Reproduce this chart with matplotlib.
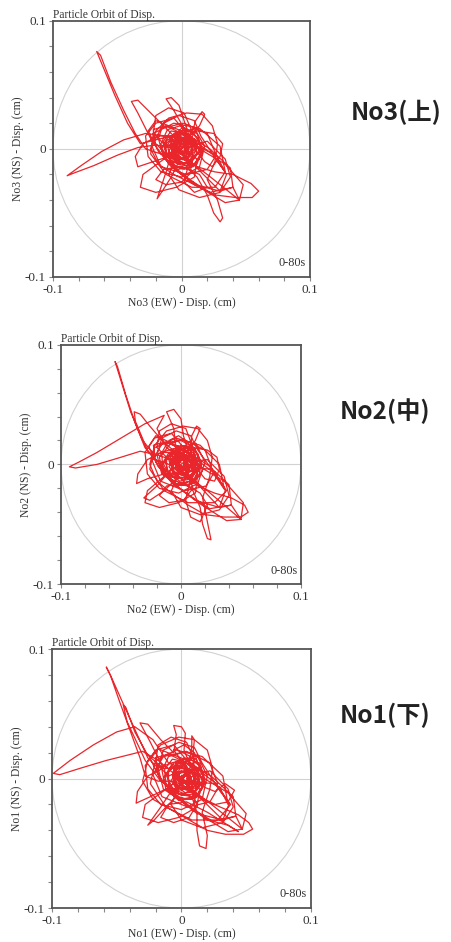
import matplotlib.pyplot as plt
import numpy as np
from matplotlib.patches import Circle

plt.rcParams['font.family'] = 'Liberation Serif'
plt.rcParams['font.size'] = 8

# orbit points, units of 1e-3 cm (EW, NS)
no3_orbit = [
    (0, 0), (4, 3), (2, 8), (-4, 7), (-7, 1), (-4, -6), (3, -8), (9, -3), (8, 5), (2, 11),
    (-6, 10), (-11, 3), (-9, -6), (-2, -12), (7, -11), (12, -3), (10, 7), (3, 13),
    (-8, 10), (-20, 7), (-32, 4), (-42, 20), (-52, 42), (-61, 64), (-66, 76), (-63, 73),
    (-55, 52), (-45, 30), (-36, 12), (-28, 0), (-16, -4), (-5, -3),
    (5, 4), (1, 12), (-8, 14), (-14, 6), (-12, -5), (-4, -14), (6, -15), (14, -8), (15, 3),
    (9, 13), (-1, 18), (-11, 15), (-16, 4), (-13, -8), (-3, -16), (9, -14), (16, -4), (13, 8),
    (4, 15), (-6, 12), (-9, 2), (-5, -7), (4, -9), (9, -1), (6, 7), (-2, 8),
    (-12, 10), (-28, 12), (-45, 7), (-62, -2), (-78, -13), (-89, -21), (-84, -19), (-68, -13),
    (-50, -5), (-34, 1), (-20, 3), (-8, 1),
    (2, -6), (12, -14), (26, -18), (40, -20), (54, -27), (60, -33), (55, -38), (42, -38),
    (26, -36), (10, -28), (-6, -20), (-18, -12), (-24, 0), (-20, 14), (-10, 24), (4, 28),
    (16, 27), (24, 18), (28, 4), (26, -10), (20, -24), (28, -40), (32, -54), (30, -57),
    (25, -50), (20, -36), (12, -22),
    (0, -10), (-12, -4), (-24, 8), (-34, 28), (-39, 37), (-34, 38), (-26, 30), (-14, 18),
    (-4, 8), (2, 16), (-6, 30), (-12, 39), (-8, 40), (-2, 34), (2, 22), (6, 10),
    (14, 18), (18, 27), (16, 29), (11, 22), (8, 12), (10, 0), (18, -10), (24, -14), (30, -6),
    (32, 4), (25, 12), (12, 14), (0, 8), (-8, -4), (-12, -18), (-19, -39), (-15, -33),
    (-8, -22), (-2, -10),
    (-10, -6), (-22, -10), (-34, -14), (-36, -6), (-30, 4), (-18, 10), (-4, 10), (8, 6),
    (12, -4), (6, -12), (-4, -10), (-8, -2), (-4, 6), (4, 8), (6, 0), (2, -5), (-3, -3),
    (-2, 3), (2, 4), (3, -1),
    (8, -18), (0, -26), (-12, -28), (-20, -24), (-14, -16), (0, -14), (14, -20), (20, -30),
    (10, -34), (2, -26), (6, -10), (14, -2), (10, 8), (0, 6),
    (4, 6), (27, -5), (20, 12), (2, 20), (-16, 16), (-23, 2), (-16, -14), (4, -20), (20, -16),
    (27, -5), (34, -18), (30, 2), (14, 16), (-6, 20), (-22, 12), (-24, -4), (-12, -20),
    (8, -30), (26, -30), (34, -18), (28, -10),
    (15, 10), (10, 22), (-2, 26), (-14, 20), (-18, 8), (-14, -6), (-4, -14), (10, -12), (16, -2),
    (-6, 24), (-20, 20), (-28, 10), (-26, -6), (-16, -18), (0, -22), (14, -14), (18, 2),
    (10, 16), (0, 12),
    (-6, 6), (-10, -2), (-4, -9), (5, -7), (8, 1), (3, 7), (-4, 4), (-2, -4), (4, -3), (2, 3),
    (10, 8), (14, -2), (8, -10), (-3, -12), (-12, -6), (-12, 6), (-4, 12), (6, 11), (12, 3),
    (9, -6), (0, -7), (-7, -2), (-6, 5), (1, 6), (5, 0), (0, -3), (-10, 10), (-16, 0),
    (-10, -12), (2, -16), (12, -12), (16, 0), (12, 12), (0, 16), (-8, 8), (-2, 0), (7, -5),
    (3, 5), (-5, 0), (0, 2),
    (-30, -20), (-32, -30), (-20, -34), (-4, -30), (10, -22), (12, -8), (2, 0), (20, 6),
    (34, -8), (38, -22), (30, -34), (14, -38), (-2, -32), (-10, -20), (-4, -6), (8, 14),
    (2, 28), (-10, 32), (-20, 26), (-22, 12), (-12, 2),
    (-2, 6), (4, 2), (1, -4), (-5, -1), (-3, 5), (3, 4), (5, -4), (-1, -8), (-8, -3), (-6, 3),
    (30, -33), (35, -20), (25, -5), (8, 8), (-12, 18), (-22, 15), (-20, 2), (-8, -14),
    (10, -28), (30, -33), (40, -30), (38, -15), (22, 0), (0, 14), (-20, 22), (-26, 14),
    (-18, -2), (0, -20), (22, -34), (40, -30), (45, -40), (48, -28), (34, -12), (14, 0),
    (-6, 10), (-14, 2), (-6, -14), (14, -30), (34, -42), (45, -40),
    (20, -20), (4, -8), (-6, 2), (-1, 10), (7, 4), (9, -8), (1, -12), (-7, -6), (-8, 6),
    (0, 12), (10, 6), (12, -4), (4, -10), (-4, -4), (-4, 4), (4, 4), (4, -4), (-1, -2),
]

no2_orbit = [
    (0, 0), (5, 4), (2, 10), (-5, 8), (-9, 1), (-5, -7), (3, -10), (10, -3), (9, 6), (1, 13),
    (-8, 11), (-13, 2), (-10, -8), (-1, -14), (9, -12), (14, -2), (11, 9), (2, 15),
    (-10, 12), (-22, 8), (-32, 20), (-42, 44), (-50, 70), (-55, 86), (-53, 82), (-46, 58),
    (-38, 34), (-30, 14), (-22, 4), (-10, 0),
    (4, 6), (0, 15), (-9, 17), (-16, 8), (-15, -5), (-6, -16), (6, -18), (15, -10), (17, 2),
    (11, 14), (0, 20), (-12, 17), (-18, 6), (-15, -8), (-4, -18), (10, -16), (18, -5), (14, 9),
    (4, 16), (-6, 13), (-10, 3), (-6, -6), (3, -9), (9, -1), (5, 8), (-3, 8),
    (-12, 14), (-20, 30), (-14, 41), (-30, 34), (-50, 22), (-70, 10), (-85, 2), (-93, -2),
    (-88, -3), (-70, 0), (-50, 6), (-34, 11), (-20, 8), (-8, 4),
    (2, -8), (14, -18), (28, -24), (42, -28), (53, -34), (56, -40), (50, -44), (36, -44),
    (20, -42), (6, -34), (-8, -24), (-20, -14), (-26, 0), (-22, 16), (-12, 28), (2, 32),
    (14, 30), (22, 20), (26, 6), (24, -10), (18, -28), (22, -48), (25, -63), (22, -62),
    (18, -50), (16, -36), (10, -22),
    (0, -12), (-14, -4), (-28, 12), (-38, 36), (-39, 44), (-34, 42), (-26, 32), (-14, 18),
    (-4, 10), (-6, 30), (-12, 44), (-6, 46), (0, 38), (2, 24), (6, 12),
    (12, 20), (16, 30), (13, 32), (9, 24), (8, 12), (12, -2), (20, -12), (28, -14), (32, -4),
    (30, 6), (22, 12), (10, 14), (0, 8), (-10, -6), (-20, -18), (-31, -28), (-26, -30),
    (-14, -22), (-4, -12),
    (-14, -8), (-28, -12), (-37, -16), (-36, -8), (-28, 4), (-16, 10), (-2, 10), (8, 6),
    (12, -4), (6, -12), (-4, -10), (-8, -2), (-4, 6), (4, 8), (6, 0), (2, -5), (-3, -3),
    (-2, 3), (2, 4), (3, -1),
    (10, -20), (2, -30), (-10, -32), (-18, -26), (-12, -18), (2, -16), (16, -24), (22, -34),
    (16, -48), (8, -44), (4, -30), (8, -12), (16, -2), (10, 8), (0, 6),
    (-4, 14), (-10, 20), (-2, 24), (6, 18), (12, 8), (6, -4), (-4, -2),
    (26, -4), (20, 12), (2, 21), (-16, 17), (-24, 3), (-17, -14), (3, -22), (21, -18),
    (28, -6), (36, -20), (32, 0), (16, 16), (-4, 22), (-22, 14), (-26, -4), (-14, -22),
    (6, -32), (28, -32), (38, -22), (30, -10),
    (14, 12), (8, 24), (-4, 28), (-16, 22), (-20, 8), (-16, -8), (-4, -16), (10, -14),
    (16, -2), (-8, 26), (-22, 22), (-30, 10), (-28, -8), (-18, -20), (-2, -24), (14, -16),
    (20, 2), (12, 18), (0, 12),
    (-6, 6), (-10, -2), (-4, -9), (5, -7), (8, 1), (3, 7), (-4, 4), (-2, -4), (4, -3), (2, 3),
    (10, 8), (14, -2), (8, -10), (-3, -12), (-12, -6), (-12, 6), (-4, 12), (6, 11), (12, 3),
    (9, -6), (0, -7), (-7, -2), (-6, 5), (1, 6), (5, 0), (0, -3), (-10, 10), (-16, 0),
    (-10, -12), (2, -16), (12, -12), (16, 0), (12, 12), (0, 16), (-8, 8), (-2, 0), (7, -5),
    (3, 5), (-5, 0), (0, 2),
    (-28, -22), (-30, -32), (-18, -36), (-2, -32), (12, -24), (14, -8), (4, 2), (22, 4),
    (36, -10), (40, -26), (32, -38), (16, -42), (0, -36), (-8, -22), (-2, -8), (10, 14),
    (4, 30), (-8, 34), (-18, 28), (-20, 14), (-10, 4),
    (-2, 8), (5, 4), (2, -4), (-4, -2), (-2, 6), (4, 6), (6, -2), (0, -6), (-7, -3), (-5, 4),
    (32, -36), (37, -22), (26, -6), (8, 8), (-12, 19), (-23, 16), (-21, 2), (-8, -15),
    (12, -30), (32, -36), (42, -34), (40, -17), (23, -1), (0, 14), (-21, 24), (-27, 15),
    (-19, -2), (1, -22), (24, -37), (42, -34), (50, -46), (52, -32), (36, -14), (14, -1),
    (-7, 10), (-15, 1), (-6, -16), (16, -33), (38, -47), (50, -46),
    (22, -22), (5, -9), (-6, 1), (-1, 11), (8, 4), (10, -8), (2, -13), (-7, -7), (-9, 6),
    (0, 13), (11, 6), (13, -5), (5, -11), (-4, -5), (-5, 4), (4, 5), (5, -4), (0, -2),
]

no1_orbit = [
    (0, 0), (6, 4), (4, 10), (-3, 9), (-7, 2), (-4, -6), (4, -9), (11, -3), (10, 6), (3, 13),
    (-6, 12), (-11, 4), (-9, -7), (0, -13), (9, -12), (14, -3), (12, 8), (4, 15),
    (-8, 12), (-18, 8), (-26, 16), (-36, 38), (-46, 60), (-54, 78), (-58, 86), (-55, 80),
    (-48, 60), (-40, 38), (-32, 16), (-28, 2), (-18, -2), (-6, -2),
    (6, 4), (2, 13), (-7, 15), (-13, 7), (-12, -5), (-3, -15), (8, -16), (16, -8), (17, 4),
    (11, 15), (1, 20), (-10, 17), (-15, 6), (-12, -8), (-2, -17), (11, -15), (18, -4), (15, 9),
    (6, 16), (-4, 13), (-7, 3), (-3, -6), (6, -9), (11, -1), (8, 7), (0, 8),
    (-10, 12), (-22, 30), (-36, 40), (-50, 36), (-68, 26), (-86, 14), (-99, 4), (-94, 3),
    (-78, 8), (-58, 14), (-42, 18), (-30, 21), (-18, 14), (-6, 4),
    (4, -8), (16, -16), (30, -22), (44, -28), (52, -34), (55, -39), (48, -43), (34, -43),
    (20, -40), (6, -32), (-8, -24), (-22, -16), (-30, -2), (-26, 14), (-16, 26), (-2, 32),
    (10, 30), (20, 22), (24, 8), (22, -8), (16, -26), (20, -44), (19, -54), (14, -52),
    (12, -40), (12, -26), (8, -14),
    (-2, -10), (-16, -2), (-28, 14), (-42, 44), (-45, 57), (-43, 55), (-36, 36), (-26, 18),
    (-14, 8), (-24, 28), (-32, 43), (-26, 42), (-16, 30), (-6, 20), (-4, 34), (-6, 41),
    (0, 40), (3, 35), (2, 22), (6, 12),
    (8, 24), (8, 33), (10, 30), (9, 20), (10, 6), (16, -6), (26, -10), (34, -4), (41, -9),
    (36, -18), (26, -20), (14, -14), (2, -2), (-8, -10), (-16, -22), (-26, -36), (-21, -32),
    (-12, -22), (-2, -12),
    (-12, -8), (-24, -14), (-35, -19), (-34, -10), (-26, 2), (-14, 8), (0, 8), (10, 4),
    (14, -6), (8, -14), (-2, -12), (-6, -4), (-2, 4), (6, 6), (8, -2), (4, -7), (-1, -5),
    (0, 2), (4, 3), (5, -3),
    (12, -20), (6, -30), (-6, -34), (-16, -30), (-10, -20), (4, -18), (20, -26), (44, -41),
    (36, -36), (20, -32), (10, -24), (10, -10), (18, -2), (14, 8), (4, 6),
    (0, 14), (-6, 22), (2, 26), (10, 20), (14, 8), (8, -4), (-2, -2),
    (28, -4), (22, 12), (4, 21), (-14, 17), (-22, 3), (-15, -14), (5, -22), (22, -18),
    (29, -6), (36, -20), (32, 2), (16, 17), (-4, 22), (-20, 14), (-24, -4), (-12, -22),
    (8, -32), (28, -32), (38, -20), (30, -10),
    (16, 12), (10, 24), (-2, 28), (-14, 22), (-18, 8), (-14, -8), (-2, -16), (12, -14),
    (18, -2), (-6, 26), (-20, 22), (-28, 10), (-26, -8), (-16, -20), (0, -24), (16, -16),
    (20, 2), (12, 18), (2, 12),
    (-4, 6), (-8, -2), (-2, -9), (7, -7), (10, 1), (5, 7), (-2, 4), (0, -4), (6, -3), (4, 3),
    (12, 8), (16, -2), (10, -10), (-1, -12), (-10, -6), (-10, 6), (-2, 12), (8, 11), (14, 3),
    (11, -6), (2, -7), (-5, -2), (-4, 5), (3, 6), (7, 0), (2, -3), (-8, 10), (-14, 0),
    (-8, -12), (4, -16), (14, -12), (18, 0), (14, 12), (2, 16), (-6, 8), (0, 0), (9, -5),
    (5, 5), (-3, 0), (2, 2),
    (-28, -20), (-30, -30), (-18, -34), (-2, -30), (12, -22), (14, -8), (4, 0), (22, 6),
    (36, -8), (40, -22), (32, -34), (16, -38), (0, -32), (-8, -20), (-2, -6), (10, 14),
    (4, 28), (-8, 32), (-18, 26), (-20, 12), (-10, 2),
    (0, 6), (6, 2), (3, -4), (-3, -1), (-1, 5), (5, 4), (7, -4), (1, -8), (-6, -3), (-4, 3),
    (32, -32), (37, -19), (27, -4), (10, 9), (-10, 19), (-20, 16), (-18, 3), (-6, -13),
    (12, -27), (32, -32), (42, -29), (40, -14), (24, 1), (2, 15), (-18, 23), (-24, 15),
    (-16, -1), (2, -19), (24, -33), (42, -29), (47, -39), (50, -27), (36, -11), (16, 1),
    (-4, 11), (-12, 3), (-4, -13), (16, -29), (36, -41), (47, -39),
    (22, -19), (6, -7), (-4, 3), (1, 11), (9, 5), (11, -7), (3, -11), (-5, -5), (-6, 7),
    (2, 13), (12, 7), (14, -3), (6, -9), (-2, -3), (-2, 5), (6, 5), (6, -3), (1, -1),
]

stations = ["No3", "No2", "No1"]
levels = ["上", "中", "下"]
orbits = [no3_orbit, no2_orbit, no1_orbit]
tick_values = [-0.1, 0, 0.1]
tick_labels = ["-0.1", "0", "0.1"]

fig = plt.figure(figsize=(4.51, 9.42), dpi=100)

# axes boxes in figure fractions
boxes = [
    [0.1175, 0.706, 0.570, 0.272],
    [0.1353, 0.380, 0.532, 0.254],
    [0.1153, 0.036, 0.574, 0.275],
]
side_text = [(0.878, 0.881), (0.853, 0.563), (0.853, 0.241)]

grey = '#d2d2d2'
spine_col = '#555555'

for box, name, level, orbit, (tx, ty) in zip(boxes, stations, levels, orbits, side_text):
    ax = fig.add_axes(box)
    pts = np.array(orbit) * 1e-3

    ax.add_patch(Circle((0, 0), 0.1, fill=False, ec=grey, lw=0.8, zorder=1))
    ax.axhline(0, color=grey, lw=0.8, zorder=1)
    ax.axvline(0, color=grey, lw=0.8, zorder=1)
    ax.plot(pts[:, 0], pts[:, 1], color='#e8262b', lw=0.9,
            solid_joinstyle='round', zorder=2)

    ax.set_xlim(-0.1, 0.1)
    ax.set_ylim(-0.1, 0.1)
    ticks = np.round(np.arange(-0.1, 0.1001, 0.02), 2)
    labels = [tick_labels[tick_values.index(t)] if t in tick_values else '' for t in ticks]
    ax.set_xticks(ticks, labels)
    ax.set_yticks(ticks, labels)
    ax.tick_params(direction='out', length=3, width=0.8, color='#888888',
                   labelsize=9.5, pad=2, labelcolor='#333333')
    for sp in ax.spines.values():
        sp.set_color(spine_col)
        sp.set_linewidth(1.3)

    ax.set_xlabel(f"{name} (EW) - Disp. (cm)", fontsize=8.4, labelpad=1, color='#333333')
    ax.set_ylabel(f"{name} (NS) - Disp. (cm)", fontsize=8.4, labelpad=1, color='#333333')
    ax.set_title("Particle Orbit of Disp.", loc='left', fontsize=8.3, pad=2, color='#333333')
    ax.text(0.985, 0.03, "0-80s", transform=ax.transAxes, ha='right', va='bottom',
            fontsize=8.8, color='#333333')

    fig.text(tx, ty, f"{name}({level})", ha='center', va='center', fontsize=17.5,
             fontweight='bold', family=['Noto Sans CJK JP', 'DejaVu Sans'], color='#222222')

plt.savefig('out.png', dpi=100)
